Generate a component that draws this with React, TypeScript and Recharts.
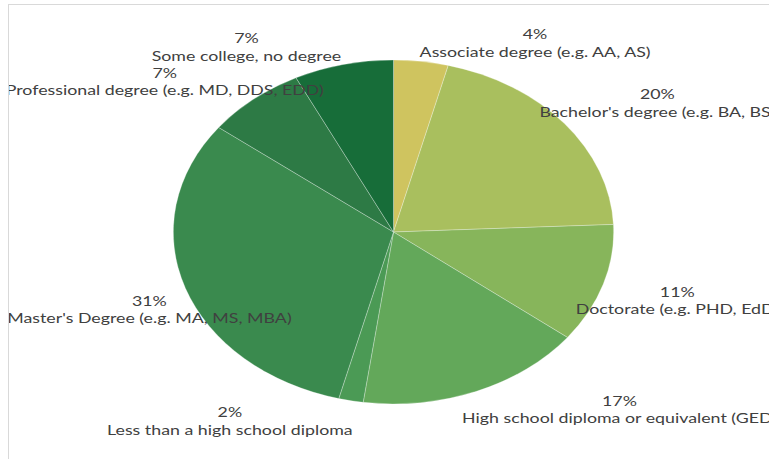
import React from "react";
import { PieChart, Pie, Cell } from "recharts";

const categories = [
  "Associate degree (e.g. AA, AS)",
  "Bachelor's degree (e.g. BA, BS)",
  "Doctorate (e.g. PHD, EdD)",
  "High school diploma or equivalent (GED)",
  "Less than a high school diploma",
  "Master's Degree (e.g. MA, MS, MBA)",
  "Professional degree (e.g. MD, DDS, EDD)",
  "Some college, no degree",
];

// share of respondents, %
const shares = [4.0, 20.3, 11.2, 16.7, 1.8, 31.4, 7.3, 7.3];

const COLORS = [
  "#cfc45f", // associate
  "#a9bf5e", // bachelor
  "#87b55b", // doctorate
  "#63a85a", // high school
  "#4b9a55", // less than HS
  "#3a8a4e", // master
  "#2d7a45", // professional
  "#176d39", // some college
];

// the original chart was stretched sideways, so we stretch the svg too
const STRETCH = 1.28;

// where each label sits relative to the rim of its slice (screen px)
const LABEL_NUDGE: [number, number][] = [
  [114, -28],
  [93, -30],
  [74, 7],
  [143, 9],
  [-121, 11],
  [-36, 12],
  [-89, -27],
  [-97, -27],
];

const chartData = categories.map((name, i) => ({ name, value: shares[i] }));

const renderLabel = (props: any) => {
  const { cx, cy, midAngle, outerRadius, percent, index } = props;
  const rad = (midAngle * Math.PI) / 180;
  const [dx, dy] = LABEL_NUDGE[index];
  const x = cx + outerRadius * Math.cos(rad) + dx / STRETCH;
  const y = cy - outerRadius * Math.sin(rad) + dy;
  const common = {
    textAnchor: "middle" as const,
    dominantBaseline: "central" as const,
    fill: "#404040",
    fontSize: 13.9,
    fontFamily: "Lato, sans-serif",
  };
  return (
    <g key={`lbl-${index}`}>
      <text x={x} y={y} {...common}>
        {`${Math.round(percent * 100)}%`}
      </text>
      <text x={x} y={y + 17.5} {...common}>
        {categories[index]}
      </text>
    </g>
  );
};

export default function App() {
  return (
    <div
      style={{
        position: "fixed",
        left: 8,
        top: 4,
        width: 761,
        height: 455,
        borderTop: "1px solid #d9d9d9",
        borderLeft: "1px solid #d9d9d9",
        boxSizing: "border-box",
        overflow: "hidden",
        background: "#fff",
      }}
    >
      <div
        style={{
          width: 760 / STRETCH,
          height: 454,
          transform: `scaleX(${STRETCH})`,
          transformOrigin: "0 0",
        }}
      >
        <PieChart
          width={760 / STRETCH}
          height={454}
          margin={{ top: 0, right: 0, bottom: 0, left: 0 }}
        >
          <Pie
            data={chartData}
            dataKey="value"
            nameKey="name"
            cx={(393.5 - 9) / STRETCH}
            cy={227}
            outerRadius={172}
            startAngle={90}
            endAngle={-270}
            stroke="#ffffff"
            strokeWidth={0.5}
            strokeOpacity={0.5}
            labelLine={false}
            label={renderLabel}
            isAnimationActive={false}
          >
            {chartData.map((entry, index) => (
              <Cell key={`cell-${index}`} fill={COLORS[index]} />
            ))}
          </Pie>
        </PieChart>
      </div>
    </div>
  );
}
